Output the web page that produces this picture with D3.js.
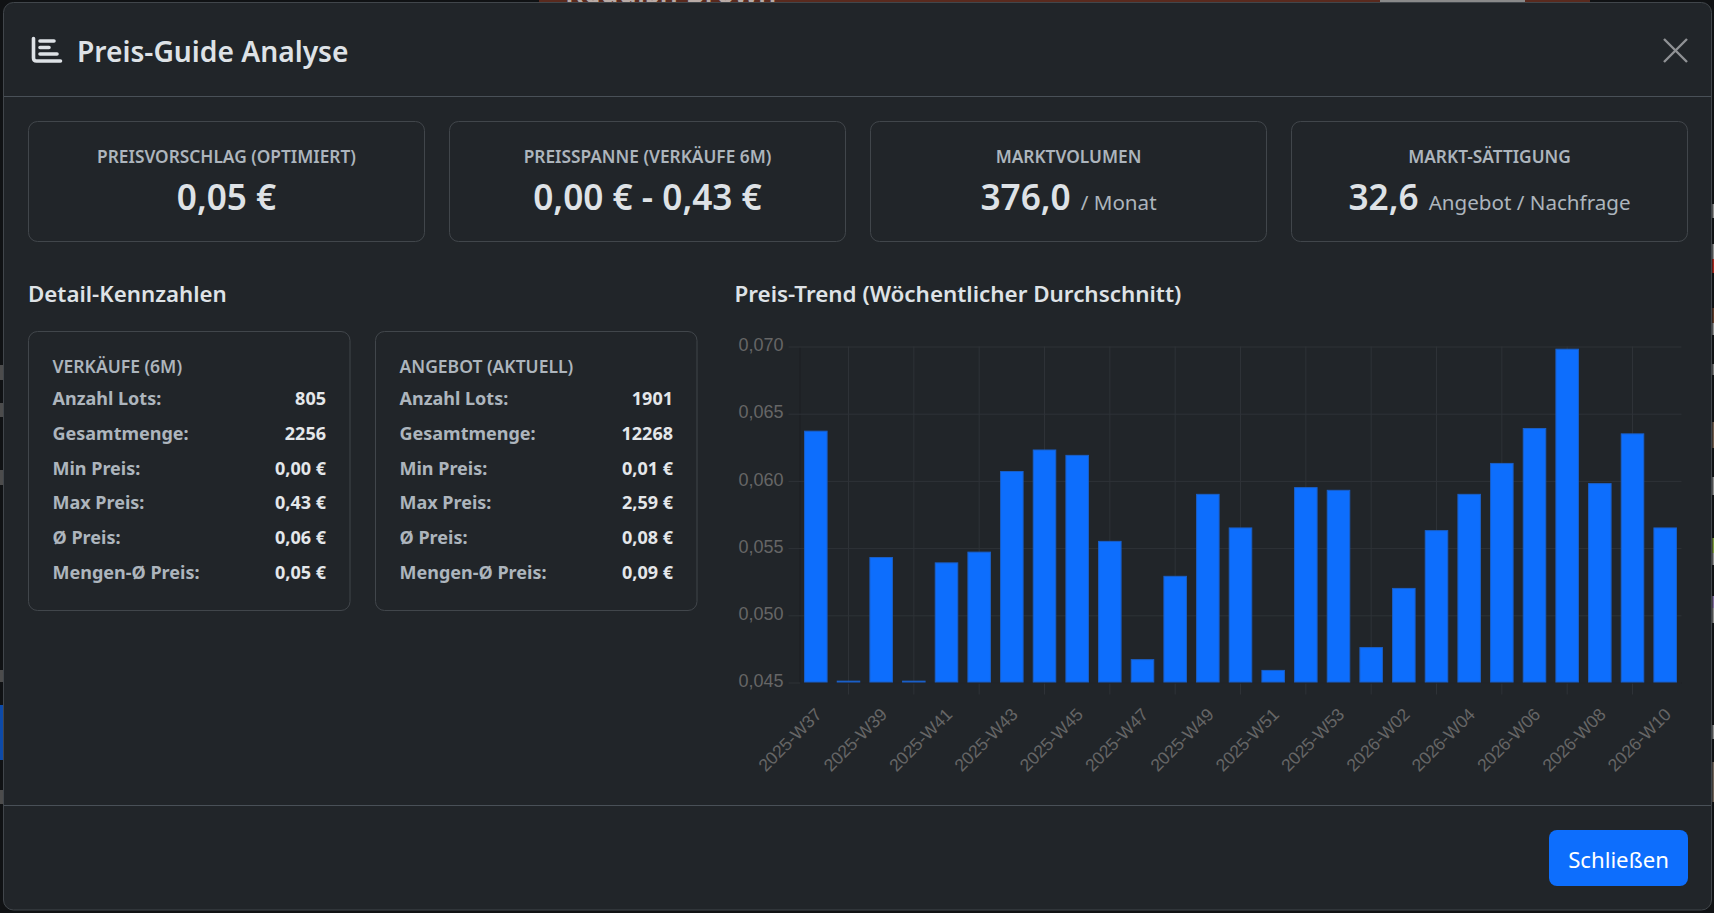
<!DOCTYPE html>
<html lang="de">
<head>
<meta charset="utf-8">
<title>Preis-Guide Analyse</title>
<script src="https://cdn.jsdelivr.net/npm/d3@7"></script>
<style>
  html, body { margin: 0; padding: 0; background: #101214; overflow: hidden; }
  svg { display: block; }
  text { font-family: "Noto Sans", "Open Sans", sans-serif; }
  .tick text { font-family: "Liberation Sans", Arial, sans-serif; }
</style>
</head>
<body>
<div id="chart"></div>
<script>
// chart data
const weeks = [
  '2025-W37', '2025-W38', '2025-W39', '2025-W40', '2025-W41', '2025-W42', '2025-W43', '2025-W44', '2025-W45',
  '2025-W46', '2025-W47', '2025-W48', '2025-W49', '2025-W50', '2025-W51', '2025-W52', '2025-W53',
  '2026-W01', '2026-W02', '2026-W03', '2026-W04', '2026-W05', '2026-W06', '2026-W07', '2026-W08', '2026-W09', '2026-W10'
];
const avgPrice = [
  0.0637, 0.0451, 0.0543, 0.0451, 0.0539, 0.0547, 0.0607, 0.0623, 0.0619,
  0.0555, 0.0467, 0.0529, 0.0590, 0.0565, 0.0459, 0.0595, 0.0593,
  0.0476, 0.0520, 0.0563, 0.0590, 0.0613, 0.0639, 0.0698, 0.0598, 0.0635, 0.0565
];
const yTicks = [0.045, 0.05, 0.055, 0.06, 0.065, 0.07];

// summary cards
const kpiLabels = ['PREISVORSCHLAG (OPTIMIERT)', 'PREISSPANNE (VERKÄUFE 6M)', 'MARKTVOLUMEN', 'MARKT-SÄTTIGUNG'];
const kpiValues = ['0,05 €', '0,00 € - 0,43 €', '376,0', '32,6'];
const kpiUnits = ['', '', '/ Monat', 'Angebot / Nachfrage'];

// detail tables
const detailLabels = ['Anzahl Lots:', 'Gesamtmenge:', 'Min Preis:', 'Max Preis:', 'Ø Preis:', 'Mengen-Ø Preis:'];
const salesValues = ['805', '2256', '0,00 €', '0,43 €', '0,06 €', '0,05 €'];
const offerValues = ['1901', '12268', '0,01 €', '2,59 €', '0,08 €', '0,09 €'];

const svg = d3.select('#chart').append('svg').attr('width', 1714).attr('height', 913);

// bits of the page behind the modal
const behind = svg.append('g');
behind.append('rect').attr('x', 539).attr('y', 0).attr('width', 1051).attr('height', 4).attr('fill', '#5a2a1e');
behind.append('rect').attr('x', 1380).attr('y', 0).attr('width', 145).attr('height', 4).attr('fill', '#8a8a8a');
behind.append('text').attr('x', 565).attr('y', 3).attr('font-size', 29).attr('font-weight', 600)
  .attr('fill', '#b9aba6').text('Reddish Brown');
behind.append('rect').attr('x', 0).attr('y', 705).attr('width', 4).attr('height', 55).attr('fill', '#0d4aa8');
[[365, 15], [403, 14], [470, 15], [670, 12], [790, 14]].forEach(d => {
  behind.append('rect').attr('x', 0).attr('y', d[0]).attr('width', 3).attr('height', d[1]).attr('fill', '#4c4c4c');
});
[[204, 14, '#8c8c8c'], [244, 15, '#8c8c8c'], [259, 14, '#a8261c'], [308, 15, '#5e3a28'], [323, 12, '#8c8c8c'],
 [364, 11, '#777'], [422, 26, '#6e5a4a'], [477, 18, '#8c8c8c'], [538, 15, '#7d9a3e'], [553, 12, '#8c8c8c'],
 [596, 12, '#7d6a9a'], [608, 15, '#8c8c8c'], [725, 14, '#8c8c8c'], [762, 40, '#6e6258']].forEach(d => {
  behind.append('rect').attr('x', 1712.5).attr('y', d[0]).attr('width', 1.5).attr('height', d[1]).attr('fill', d[2]);
});

// modal
svg.append('rect')
  .attr('x', 3.5).attr('y', 2.5).attr('width', 1708).attr('height', 907.5).attr('rx', 10)
  .attr('fill', '#212529').attr('stroke', '#41464b');
svg.append('line').attr('x1', 4).attr('x2', 1711).attr('y1', 96.5).attr('y2', 96.5).attr('stroke', '#495057');
svg.append('line').attr('x1', 4).attr('x2', 1711).attr('y1', 805.5).attr('y2', 805.5).attr('stroke', '#495057');

// header
const icon = svg.append('g').attr('fill', 'none').attr('stroke', '#dee2e6').attr('stroke-linecap', 'round').attr('stroke-width', 3.6);
icon.append('path').attr('d', 'M33.5 38.5V58Q33.5 61 36.5 61H60.5');
icon.append('path').attr('d', 'M40 41H54M40 47.5H49M40 54H57');
svg.append('text').attr('x', 77).attr('y', 61.5).attr('font-size', 28.2).attr('font-weight', 600).attr('fill', '#dee2e6')
  .text('Preis-Guide Analyse');
svg.append('path').attr('d', 'M1664 39L1687 62M1687 39L1664 62').attr('stroke', '#909295').attr('stroke-width', 2.4).attr('fill', 'none');

// kpi cards
const kpiX = [28.5, 449.5, 870.5, 1291.5];
const kpi = svg.selectAll('g.kpi').data(kpiLabels).enter().append('g').attr('class', 'kpi')
  .attr('transform', (d, i) => `translate(${kpiX[i]},121.5)`);
kpi.append('rect').attr('width', 396).attr('height', 120).attr('rx', 9).attr('fill', 'none').attr('stroke', '#41464b');
kpi.append('text').attr('x', 198).attr('y', 41.5).attr('text-anchor', 'middle').attr('font-size', 17.3)
  .attr('font-weight', 600).attr('fill', '#adb5bd').text(d => d);
const kpiValue = kpi.append('text').attr('x', 198).attr('y', 88.5).attr('text-anchor', 'middle');
kpiValue.append('tspan').attr('font-size', 35.2).attr('font-weight', 600).attr('fill', '#dee2e6').text((d, i) => kpiValues[i]);
kpiValue.append('tspan').attr('dx', 10).attr('font-size', 20.6).attr('fill', '#adb5bd').text((d, i) => kpiUnits[i]);

// section titles
svg.append('text').attr('x', 28).attr('y', 301.5).attr('font-size', 22.3).attr('font-weight', 600).attr('fill', '#dee2e6').text('Detail-Kennzahlen');
svg.append('text').attr('x', 734.5).attr('y', 301.5).attr('font-size', 22.4).attr('font-weight', 600).attr('fill', '#dee2e6').text('Preis-Trend (Wöchentlicher Durchschnitt)');

// detail cards
const details = [
  { title: 'VERKÄUFE (6M)', x: 28.5, values: salesValues },
  { title: 'ANGEBOT (AKTUELL)', x: 375.5, values: offerValues }
];
const rowY = d3.scalePoint().domain(detailLabels).range([405, 579]);
const card = svg.selectAll('g.detail').data(details).enter().append('g').attr('class', 'detail')
  .attr('transform', d => `translate(${d.x},0)`);
card.append('rect').attr('y', 331.5).attr('width', 321.5).attr('height', 279).attr('rx', 9).attr('fill', 'none').attr('stroke', '#41464b');
card.append('text').attr('x', 24).attr('y', 372.5).attr('font-size', 17.5).attr('font-weight', 600).attr('fill', '#adb5bd').text(d => d.title);
detailLabels.forEach((label, i) => {
  card.append('text').attr('x', 24).attr('y', rowY(label)).attr('font-size', 18).attr('font-weight', 700).attr('fill', '#adb5bd').text(label);
  card.append('text').attr('x', 297.5).attr('y', rowY(label)).attr('text-anchor', 'end').attr('font-size', 18).attr('font-weight', 700).attr('fill', '#e4e7ea').text(d => d.values[i]);
});

// footer button
svg.append('rect').attr('x', 1549).attr('y', 830).attr('width', 139).attr('height', 56).attr('rx', 8).attr('fill', '#0d6efd');
svg.append('text').attr('x', 1618.5).attr('y', 867.5).attr('text-anchor', 'middle').attr('font-size', 22.2).attr('fill', '#fff').text('Schließen');

// bar chart
const margin = { left: 799.5, top: 346.5 };
const width = 882;
const height = 336;
const gridColor = '#2e3237';
const labelColor = '#666';

const x = d3.scaleBand().domain(weeks).range([0, width]).paddingInner(0.28).paddingOuter(0.14);
const y = d3.scaleLinear().domain([0.045, 0.07]).range([height, 0]);
const de = d3.formatLocale({ decimal: ',', thousands: '.', grouping: [3], currency: ['', ' €'] });

const plot = svg.append('g').attr('transform', `translate(${margin.left},${margin.top})`);

// vertical grid sits between the labelled weeks
plot.append('g').selectAll('line')
  .data(weeks.filter((d, i) => i % 2 === 1))
  .enter().append('line')
  .attr('x1', d => x(d) + x.bandwidth() / 2)
  .attr('x2', d => x(d) + x.bandwidth() / 2)
  .attr('y1', 0).attr('y2', height + 12)
  .attr('stroke', gridColor);

const yAxis = plot.append('g').call(d3.axisLeft(y).tickValues(yTicks).tickFormat(de.format('.3f')).tickSize(0));
yAxis.select('.domain').attr('stroke', '#1c1f22');
yAxis.selectAll('.tick line').attr('x1', -11).attr('x2', width).attr('stroke', gridColor);
yAxis.selectAll('.tick text').attr('x', -16).attr('y', -1.5).attr('font-size', 18).attr('fill', labelColor);

const xAxis = plot.append('g').attr('transform', `translate(0,${height})`)
  .call(d3.axisBottom(x).tickValues(weeks.filter((d, i) => i % 2 === 0)).tickSize(0));
xAxis.select('.domain').attr('stroke', '#1c1f22');
xAxis.selectAll('.tick text')
  .attr('font-size', 17.5).attr('fill', labelColor)
  .attr('text-anchor', 'end').attr('dy', 0).attr('y', 0)
  .attr('transform', 'translate(7,33) rotate(-45)');

plot.append('g').selectAll('rect')
  .data(avgPrice)
  .enter().append('rect')
  .attr('x', (d, i) => x(weeks[i]) + 0.5)
  .attr('y', d => y(d))
  .attr('width', x.bandwidth() - 1)
  .attr('height', d => Math.max(y(0.045) - y(d) - 0.5, 0.5))
  .attr('fill', '#0d6efd')
  .attr('stroke', '#1a5fc8');
</script>
</body>
</html>
